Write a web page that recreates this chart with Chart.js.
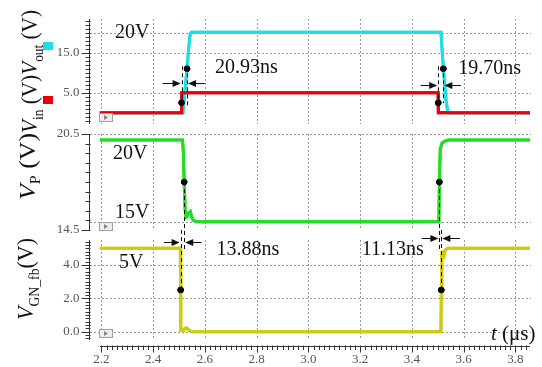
<!DOCTYPE html>
<html>
<head>
<meta charset="utf-8">
<script src="https://cdn.jsdelivr.net/npm/chart.js@4.4.0/dist/chart.umd.min.js"></script>
<style>
  body { margin: 0; background: #fff; }
  #wrap { position: relative; width: 542px; height: 367px; }
  canvas { position: absolute; left: 0; top: 0; }
</style>
</head>
<body>
<div id="wrap">
  <canvas id="topChart" width="542" height="367"></canvas>
  <canvas id="midChart" width="542" height="367"></canvas>
  <canvas id="botChart" width="542" height="367"></canvas>
</div>
<script>
"use strict";

// time axis (us)
var tMin = 2.156, tMax = 3.86;
var xTicks = [2.2, 2.4, 2.6, 2.8, 3.0, 3.2, 3.4, 3.6, 3.8];

// top panel: Vin (red) and Vout (cyan)
var vinT = [2.194, 2.5095, 2.5105, 3.5011, 3.5021, 3.856];
var vinV = [0, 0, 5, 5, 0, 0];
var voutT = [2.194, 2.515, 2.531, 2.541, 2.544, 2.548, 3.512, 3.5213, 3.532, 3.539, 3.856];
var voutV = [0, 0, 11, 18.8, 19.8, 20.1, 20.1, 11, 3, 0, 0];
var topDotT = [2.510, 2.531, 3.5016, 3.5213];
var topDotV = [2.5, 11, 2.5, 11];
var topTicks = [5, 15];
var topGrid = [5, 15, 20];

// middle panel: VP (green)
var vpT = [2.194, 2.5135, 2.5165, 2.5201, 2.5235, 2.527, 2.531, 2.536, 2.5435, 2.549, 2.555, 2.568,
           3.504, 3.506, 3.5095, 3.517, 3.530, 3.540, 3.856];
var vpV = [20.12, 20.12, 19.4, 17.5, 15.8, 15.3, 15.35, 15.55, 15.65, 15.3, 15.1, 15.02,
           15.02, 17.5, 19.6, 19.95, 20.07, 20.12, 20.12];
var midDotT = [2.5201, 3.506];
var midDotV = [17.5, 17.5];
var midTicks = [14.5, 20.5];
var midGrid = [15, 20.5];

// bottom panel: VGN_fb (yellow)
var vgnT = [2.194, 2.505, 2.5062, 2.5075, 2.512, 2.516, 2.522, 2.529, 2.536, 2.542, 2.555,
            3.512, 3.5135, 3.5155, 3.521, 3.525, 3.529, 3.537, 3.856];
var vgnV = [5, 5, 2.5, 0.08, 0.1, 0.02, 0.2, 0.24, 0.12, 0.03, 0,
            0, 2.5, 4.75, 4.8, 4.62, 4.9, 5, 5];
var botDotT = [2.5062, 3.5135];
var botDotV = [2.5, 2.5];
var botTicks = [0, 2, 4];
var botGrid = [0, 2, 4];

var serif = '"Liberation Serif", "Times New Roman", serif';

function pts(ts, vs) {
  return ts.map(function (t, i) { return { x: t, y: vs[i] }; });
}

function tickList(min, max, anchor, step) {
  var out = [];
  var k0 = Math.ceil((min - anchor) / step - 1e-6);
  var k1 = Math.floor((max - anchor) / step + 1e-6);
  for (var k = k0; k <= k1; k++) out.push(anchor + k * step);
  return out;
}

function lineSet(data, color) {
  return { data: data, borderColor: color, borderWidth: 3, pointRadius: 0, tension: 0, fill: false };
}

function dotSet(data) {
  return { data: data, showLine: false, pointRadius: 2.8, pointBackgroundColor: '#000', pointBorderColor: '#000', borderColor: '#000' };
}

function options(yMin, yMax, pad) {
  return {
    responsive: false,
    animation: false,
    devicePixelRatio: 1,
    layout: { padding: pad },
    plugins: { legend: { display: false }, tooltip: { enabled: false } },
    scales: {
      x: { type: 'linear', min: tMin, max: tMax, ticks: { display: false },
           grid: { display: false, drawTicks: false }, border: { display: false } },
      y: { min: yMin, max: yMax, ticks: { display: false },
           grid: { display: false, drawTicks: false }, border: { display: false } }
    }
  };
}

// ---- drawing helpers ----
function dottedGrid(chart, yGrid) {
  var ctx = chart.ctx, a = chart.chartArea;
  var xs = chart.scales.x, ys = chart.scales.y;
  ctx.save();
  ctx.strokeStyle = '#9a9a9a';
  ctx.lineWidth = 1;
  ctx.setLineDash([2, 2]);
  ctx.beginPath();
  xTicks.forEach(function (t) {
    var x = Math.round(xs.getPixelForValue(t)) + 0.5;
    ctx.moveTo(x, a.top);
    ctx.lineTo(x, a.bottom);
  });
  yGrid.forEach(function (v) {
    var y = Math.round(ys.getPixelForValue(v)) + 0.5;
    ctx.moveTo(a.left, y);
    ctx.lineTo(a.right, y);
  });
  ctx.stroke();
  ctx.restore();
}

// grid goes under the traces: draw it, then paint the datasets again on top
function gridUnderData(chart, yGrid) {
  dottedGrid(chart, yGrid);
  chart.getSortedVisibleDatasetMetas().slice().reverse().forEach(function (m) {
    m.controller.draw();
  });
}

function yAxis(chart, anchor, step, majors) {
  var ctx = chart.ctx, ys = chart.scales.y, a = chart.chartArea;
  var x = a.left - 0.5;
  ctx.save();
  ctx.strokeStyle = '#333';
  ctx.lineWidth = 1;
  ctx.beginPath();
  ctx.moveTo(x, a.top);
  ctx.lineTo(x, a.bottom);
  tickList(ys.min, ys.max, anchor, step).forEach(function (v) {
    var y = Math.round(ys.getPixelForValue(v)) + 0.5;
    var major = majors.some(function (m) { return Math.abs(m - v) < 1e-6; });
    ctx.moveTo(x - (major ? 8 : 4), y);
    ctx.lineTo(x + 1, y);
  });
  ctx.stroke();
  ctx.fillStyle = '#555';
  ctx.font = '13px ' + serif;
  ctx.textAlign = 'right';
  ctx.textBaseline = 'middle';
  majors.forEach(function (m) {
    ctx.fillText(m.toFixed(1), x - 10, ys.getPixelForValue(m));
  });
  ctx.restore();
}

function vTitle(ctx, x, yBottom, length, parts) {
  ctx.save();
  ctx.translate(x, yBottom);
  ctx.rotate(-Math.PI / 2);
  var total = 0;
  parts.forEach(function (p) { ctx.font = p[1]; total += ctx.measureText(p[0]).width; });
  ctx.scale(length / total, 1);
  ctx.fillStyle = '#111';
  ctx.textBaseline = 'alphabetic';
  var pos = 0;
  parts.forEach(function (p) {
    ctx.font = p[1];
    ctx.fillText(p[0], pos, p[2] || 0);
    pos += ctx.measureText(p[0]).width;
  });
  ctx.restore();
}

function playIcon(chart, yTop) {
  var ctx = chart.ctx;
  var x = Math.round(chart.scales.x.getPixelForValue(2.2)) - 2;
  ctx.save();
  ctx.fillStyle = '#eeeeee';
  ctx.fillRect(x, yTop, 13, 8);
  ctx.strokeStyle = '#a0a0a0';
  ctx.strokeRect(x + 0.5, yTop + 0.5, 13, 8);
  ctx.fillStyle = '#888';
  ctx.beginPath();
  ctx.moveTo(x + 5, yTop + 2);
  ctx.lineTo(x + 5, yTop + 7);
  ctx.lineTo(x + 9, yTop + 4.5);
  ctx.closePath();
  ctx.fill();
  ctx.restore();
}

function dashed(ctx, x, y1, y2) {
  ctx.save();
  ctx.strokeStyle = '#111';
  ctx.lineWidth = 1;
  ctx.setLineDash([4, 3]);
  ctx.beginPath();
  ctx.moveTo(Math.round(x) + 0.5, y1);
  ctx.lineTo(Math.round(x) + 0.5, y2);
  ctx.stroke();
  ctx.restore();
}

function arrow(ctx, xFrom, xTo, y) {
  var dir = xTo > xFrom ? 1 : -1;
  y = Math.round(y) + 0.5;
  ctx.save();
  ctx.strokeStyle = '#111';
  ctx.fillStyle = '#111';
  ctx.lineWidth = 1;
  ctx.beginPath();
  ctx.moveTo(xFrom, y);
  ctx.lineTo(xTo - dir * 6, y);
  ctx.stroke();
  ctx.beginPath();
  ctx.moveTo(xTo, y);
  ctx.lineTo(xTo - dir * 8, y - 3.5);
  ctx.lineTo(xTo - dir * 8, y + 3.5);
  ctx.closePath();
  ctx.fill();
  ctx.restore();
}

function label(chart, text, t, v, size) {
  var ctx = chart.ctx;
  ctx.save();
  ctx.fillStyle = '#111';
  ctx.font = (size || 20) + 'px ' + serif;
  ctx.textAlign = 'left';
  ctx.textBaseline = 'middle';
  ctx.fillText(text, chart.scales.x.getPixelForValue(t), chart.scales.y.getPixelForValue(v));
  ctx.restore();
}

function px(chart, t) { return chart.scales.x.getPixelForValue(t); }
function py(chart, v) { return chart.scales.y.getPixelForValue(v); }

// ---- top chart ----
var topPlugin = {
  id: 'topDeco',
  afterDraw: function (c) {
    var ctx = c.ctx;
    gridUnderData(c, topGrid);
    yAxis(c, 5, 1, topTicks);
    playIcon(c, 113);
    [[topDotT[0], topDotT[1], 1.4, 7.35, 2.4365, 2.600], [topDotT[2], topDotT[3], 2.4, 6.9, 3.4336, 3.589]].forEach(function (m) {
      dashed(ctx, px(c, m[0]), py(c, 11.6), py(c, m[2]));
      dashed(ctx, px(c, m[1]), py(c, 11.6), py(c, m[2]));
      arrow(ctx, px(c, m[4]), px(c, m[0]) - 1, py(c, m[3]));
      arrow(ctx, px(c, m[5]), px(c, m[1]) + 1, py(c, m[3]));
    });
    label(c, '20V', 2.2526, 19.9);
    label(c, '20.93ns', 2.6386, 11.2);
    label(c, '19.70ns', 3.579, 11.1);
    vTitle(ctx, 37, 133, 123, [
      ['V', 'italic 24px ' + serif], ['in', '15px ' + serif, 6], [' (V)', '24px ' + serif],
      ['V', 'italic 24px ' + serif], ['out', '15px ' + serif, 6], [' (V)', '24px ' + serif]
    ]);
    ctx.fillStyle = '#20dce4';
    ctx.fillRect(43, 42, 10, 8);
    ctx.fillStyle = '#e8000c';
    ctx.fillRect(43, 96, 10, 8);
  }
};

var topChart = new Chart(document.getElementById('topChart'), {
  type: 'line',
  data: {
    datasets: [
      dotSet(pts(topDotT, topDotV)),
      lineSet(pts(vinT, vinV), '#e8000c'),
      lineSet(pts(voutT, voutV), '#20dce4')
    ]
  },
  options: options(-2.8, 23.4, { left: 90, right: 11, top: 19, bottom: 243 }),
  plugins: [topPlugin]
});

// ---- middle chart ----
var midPlugin = {
  id: 'midDeco',
  afterDraw: function (c) {
    gridUnderData(c, midGrid);
    yAxis(c, 14.5, 0.6, midTicks);
    playIcon(c, 222);
    label(c, '20V', 2.2444, 19.25);
    label(c, '15V', 2.2526, 15.58);
    vTitle(c.ctx, 35, 200, 67, [
      ['V', 'italic 24px ' + serif], ['P', '15px ' + serif, 5], [' (V)', '24px ' + serif]
    ]);
  }
};

var midChart = new Chart(document.getElementById('midChart'), {
  type: 'line',
  data: {
    datasets: [
      dotSet(pts(midDotT, midDotV)),
      lineSet(pts(vpT, vpV), '#22dd22')
    ]
  },
  options: options(14.5, 20.5, { left: 90, right: 11, top: 134, bottom: 137 }),
  plugins: [midPlugin]
});

// ---- bottom chart ----
var botPlugin = {
  id: 'botDeco',
  afterDraw: function (c) {
    var ctx = c.ctx;
    gridUnderData(c, botGrid);
    yAxis(c, 0, 0.2, botTicks);
    playIcon(c, 329);

    // x axis
    var xs = c.scales.x;
    var axY = 346.5;
    var x0 = xs.getPixelForValue(2.1946), x1 = xs.getPixelForValue(3.856);
    ctx.save();
    ctx.strokeStyle = '#333';
    ctx.lineWidth = 1;
    ctx.beginPath();
    ctx.moveTo(x0, axY);
    ctx.lineTo(x1, axY);
    tickList(2.1946, 3.856, 2.2, 0.02).forEach(function (t) {
      var x = Math.round(xs.getPixelForValue(t)) + 0.5;
      var major = xTicks.some(function (m) { return Math.abs(m - t) < 1e-6; });
      ctx.moveTo(x, axY - 1);
      ctx.lineTo(x, axY + (major ? 6 : 3.5));
    });
    ctx.stroke();
    ctx.fillStyle = '#555';
    ctx.font = '13px ' + serif;
    ctx.textAlign = 'center';
    ctx.textBaseline = 'middle';
    xTicks.forEach(function (t) { ctx.fillText(t.toFixed(1), xs.getPixelForValue(t), 360); });
    ctx.textAlign = 'left';
    ctx.textBaseline = 'alphabetic';
    ctx.fillStyle = '#111';
    ctx.font = 'italic 21px ' + serif;
    ctx.fillText('t', 491, 340);
    ctx.font = '21px ' + serif;
    ctx.fillText('(\u03bcs)', 502, 340);
    ctx.restore();

    // delay markers between VP and VGN_fb
    var my = midChart.scales.y;
    [[botDotT[0], midDotT[0], 5.36, 2.4415, 2.587], [botDotT[1], midDotT[1], 5.6, 3.4375, 3.5855]].forEach(function (m) {
      var xg = px(c, m[0]), xp = px(c, m[1]);
      dashed(ctx, xg, py(c, 6.1), py(c, 2.5));
      dashed(ctx, xp, my.getPixelForValue(17.5), py(c, 4.9));
      var left = Math.min(xg, xp), right = Math.max(xg, xp);
      arrow(ctx, px(c, m[3]), left - 1, py(c, m[2]));
      arrow(ctx, px(c, m[4]), right + 1, py(c, m[2]));
    });
    label(c, '5V', 2.2676, 4.12);
    label(c, '13.88ns', 2.645, 4.9);
    label(c, '11.13ns', 3.2056, 4.9);
    vTitle(ctx, 33, 320, 82, [
      ['V', 'italic 24px ' + serif], ['GN_fb', '15px ' + serif, 6], ['(V)', '24px ' + serif]
    ]);
  }
};

var botChart = new Chart(document.getElementById('botChart'), {
  type: 'line',
  data: {
    datasets: [
      dotSet(pts(botDotT, botDotV)),
      lineSet(pts(vgnT, vgnV), '#cccc10')
    ]
  },
  options: options(-0.5, 5.5, { left: 90, right: 11, top: 240, bottom: 27 }),
  plugins: [botPlugin]
});
</script>
</body>
</html>
